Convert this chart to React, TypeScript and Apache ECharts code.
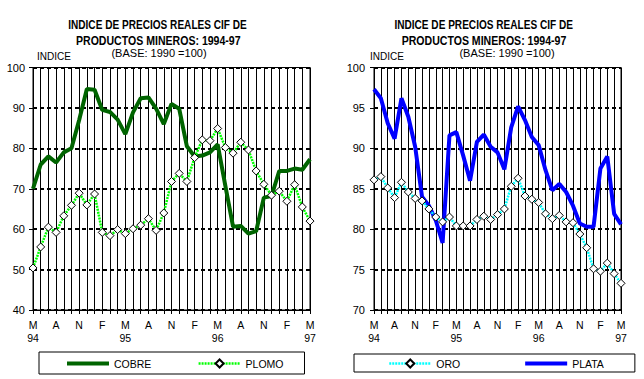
import React, { useEffect, useRef } from "react";
import * as echarts from "echarts";

const categories = [
  "May 94", "Jun 94", "Jul 94", "Ago 94", "Sep 94", "Oct 94", "Nov 94", "Dic 94",
  "Ene 95", "Feb 95", "Mar 95", "Abr 95", "May 95", "Jun 95", "Jul 95", "Ago 95", "Sep 95", "Oct 95", "Nov 95", "Dic 95",
  "Ene 96", "Feb 96", "Mar 96", "Abr 96", "May 96", "Jun 96", "Jul 96", "Ago 96", "Sep 96", "Oct 96", "Nov 96", "Dic 96",
  "Ene 97", "Feb 97", "Mar 97", "Abr 97", "May 97",
];

const cobre = [70, 76, 78, 76.5, 79, 80, 87, 94.7, 94.5, 89.5, 89, 87.1, 83.5, 88.9, 92.4, 92.6, 89.8, 86, 91, 89.8, 80.5, 78, 78.2, 79, 81, 70.7, 60.6, 60.8, 58.9, 59.5, 67.8, 68.2, 74.4, 74.4, 75, 74.7, 77.3];
const plomo = [50.4, 55.6, 60.5, 59.2, 63.3, 65.9, 68.9, 66, 68.7, 59.2, 58.4, 59.9, 58.9, 60.1, 61, 62.6, 59.7, 64, 71.8, 73.8, 71.8, 77.7, 82.1, 81.9, 84.9, 80.2, 78.8, 81.5, 79.6, 74.4, 71.1, 68.4, 69.4, 66.9, 71, 65.5, 62];
const oro = [86.1, 86.5, 85.1, 83.9, 85.8, 84.6, 83.8, 83.5, 82.5, 81.5, 80.9, 81.5, 80.4, 80.4, 80.4, 81.2, 81.6, 81.2, 81.8, 82.5, 85.3, 86.3, 84.1, 83.7, 83.3, 81.9, 81.3, 81.7, 80.9, 80.8, 79.4, 77.7, 75.1, 74.8, 75.8, 74.5, 73.3];
const plata = [97.3, 96.2, 93.1, 91.2, 96.2, 93.9, 90.2, 84, 82.9, 81.1, 78.3, 91.6, 92, 89.1, 86, 90.8, 91.7, 90.2, 89.5, 87.4, 92.6, 95.2, 93.5, 91.4, 90.4, 87.3, 84.8, 85.6, 84.6, 82.9, 80.7, 80.3, 80.3, 87.5, 89, 81.9, 80.6];

const leftAxisRange = { min: 40, max: 100, interval: 10 };
const rightAxisRange = { min: 70, max: 100, interval: 5 };

const titleLine1 = "INDICE DE PRECIOS REALES CIF DE";
const titleLine2 = "PRODUCTOS MINEROS: 1994-97";
const baseText = "(BASE: 1990 =100)";
const unitText = "INDICE";

const FONT = "'Liberation Sans', Arial, sans-serif";

function xAxisCfg(gridIndex: number) {
  return {
    type: "category",
    gridIndex,
    data: categories,
    boundaryGap: false,
    axisLine: { show: true, lineStyle: { color: "#000", width: 1 } },
    axisTick: { show: true, interval: 0, length: 4, lineStyle: { color: "#000", width: 1 } },
    axisLabel: {
      interval: 2,
      color: "#000",
      fontSize: 10.5,
      fontFamily: FONT,
      margin: 8,
      lineHeight: 13,
      formatter: (value: string, index: number) =>
        index % 12 === 0 ? `${value[0]}\n${value.slice(-2)}` : value[0],
    },
    splitLine: { show: true, interval: 0, lineStyle: { color: "#000", width: 1 } },
  };
}

function yAxisCfg(gridIndex: number, range: { min: number; max: number; interval: number }, margin: number) {
  return {
    type: "value",
    gridIndex,
    min: range.min,
    max: range.max,
    interval: range.interval,
    axisLine: { show: true, lineStyle: { color: "#000", width: 1 } },
    axisTick: { show: true, length: 4, lineStyle: { color: "#000", width: 1 } },
    axisLabel: { color: "#000", fontSize: 11, fontFamily: FONT, margin },
    splitLine: { show: true, lineStyle: { color: "#000", width: 2, type: [4, 3] } },
  };
}

function txt(text: string, x: number, y: number, font: string, align: string, scaleX = 1) {
  return {
    type: "text",
    x,
    y,
    scaleX,
    style: {
      text,
      font,
      fill: "#000",
      align,
      textAlign: align,
      verticalAlign: "middle",
      textVerticalAlign: "middle",
    },
  };
}

const hiddenSymbol = { opacity: 0, borderWidth: 0 };

export default function App() {
  const ref = useRef<HTMLDivElement>(null);

  useEffect(() => {
    if (!ref.current) return;
    const chart = echarts.init(ref.current, undefined, { renderer: "svg" });
    const titleFont = `bold 12px ${FONT}`;
    const baseFont = `11px ${FONT}`;
    const unitFont = `10px ${FONT}`;
    const legendText = { color: "#000", fontSize: 10.5, fontFamily: FONT };
    const option = {
      animation: false,
      backgroundColor: "#fff",
      grid: [
        { left: 33, top: 67.5, width: 277, height: 242.5, show: true, borderColor: "#000", borderWidth: 1, backgroundColor: "transparent" },
        { left: 374, top: 67.5, width: 247, height: 242.5, show: true, borderColor: "#000", borderWidth: 1, backgroundColor: "transparent" },
      ],
      xAxis: [xAxisCfg(0), xAxisCfg(1)],
      yAxis: [yAxisCfg(0, leftAxisRange, 8), yAxisCfg(1, rightAxisRange, 9)],
      legend: [
        {
          data: [{ name: "COBRE", itemStyle: hiddenSymbol }, { name: "PLOMO" }],
          left: 39,
          top: 352,
          itemWidth: 42,
          itemHeight: 10,
          itemGap: 46,
          padding: [6, 21, 5, 26],
          borderColor: "#000",
          borderWidth: 1,
          selectedMode: false,
          lineStyle: { width: "inherit" },
          textStyle: legendText,
        },
        {
          data: [{ name: "ORO" }, { name: "PLATA", itemStyle: hiddenSymbol }],
          left: 354,
          top: 354,
          itemWidth: 42,
          itemHeight: 10,
          itemGap: 63,
          padding: [4, 31, 3, 34],
          borderColor: "#000",
          borderWidth: 1,
          selectedMode: false,
          lineStyle: { width: "inherit" },
          textStyle: legendText,
        },
      ],
      graphic: [
        txt(titleLine1, 157.5, 25, titleFont, "center", 0.84),
        txt(titleLine2, 158.3, 41, titleFont, "center", 0.88),
        txt(baseText, 159, 53, baseFont, "center"),
        txt(unitText, 37, 56.5, unitFont, "left"),
        txt(titleLine1, 483.7, 25, titleFont, "center", 0.84),
        txt(titleLine2, 484, 41, titleFont, "center", 0.88),
        txt(baseText, 507, 53, baseFont, "center"),
        txt(unitText, 370, 56.5, unitFont, "left"),
      ],
      series: [
        {
          name: "COBRE",
          type: "line",
          xAxisIndex: 0,
          yAxisIndex: 0,
          data: cobre,
          symbol: "none",
          lineStyle: { color: "#006400", width: 4 },
          itemStyle: { color: "#006400" },
          z: 2,
        },
        {
          name: "PLOMO",
          type: "line",
          xAxisIndex: 0,
          yAxisIndex: 0,
          data: plomo,
          symbol: "diamond",
          symbolSize: 8,
          showAllSymbol: true,
          lineStyle: { color: "#00ff00", width: 2.5, type: [2, 1] },
          itemStyle: { color: "#fff", borderColor: "#000", borderWidth: 1 },
          z: 3,
        },
        {
          name: "PLATA",
          type: "line",
          xAxisIndex: 1,
          yAxisIndex: 1,
          data: plata,
          symbol: "none",
          lineStyle: { color: "#0000ff", width: 4 },
          itemStyle: { color: "#0000ff" },
          z: 2,
        },
        {
          name: "ORO",
          type: "line",
          xAxisIndex: 1,
          yAxisIndex: 1,
          data: oro,
          symbol: "diamond",
          symbolSize: 8,
          showAllSymbol: true,
          lineStyle: { color: "#00ffff", width: 2.5, type: [2, 1] },
          itemStyle: { color: "#fff", borderColor: "#000", borderWidth: 1 },
          z: 3,
        },
      ],
    };
    chart.setOption(option as any);
    return () => chart.dispose();
  }, []);

  return (
    <div
      ref={ref}
      style={{ position: "fixed", left: 0, top: 0, width: 644, height: 379, background: "#fff" }}
    />
  );
}
